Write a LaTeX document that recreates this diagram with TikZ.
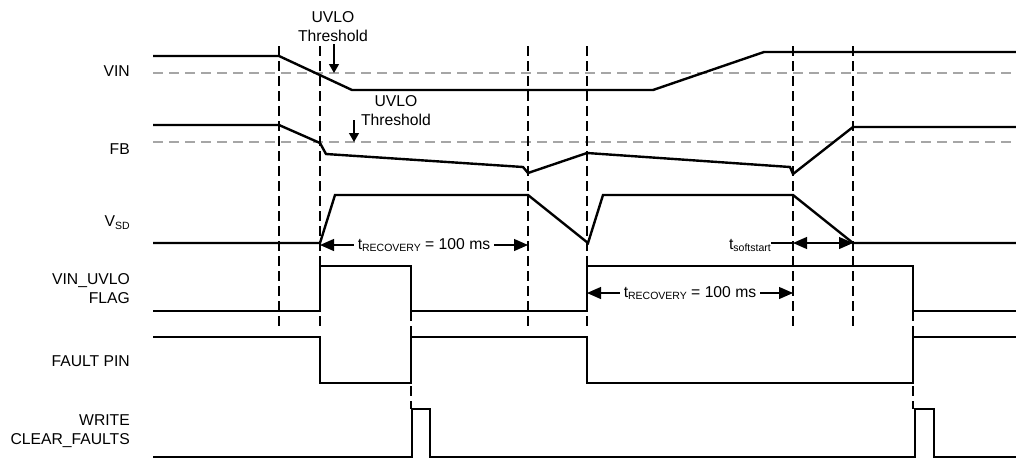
\documentclass[tikz,border=0pt]{standalone}
\usepackage{fontspec}
\setmainfont{Liberation Sans}
\usetikzlibrary{arrows.meta}
\newcommand{\mysub}[2][-2pt]{\raisebox{#1}{\fontsize{10.5}{10.5}\selectfont #2}}
\begin{document}
\begin{tikzpicture}[x=1pt,y=-1pt,
  sig/.style={line width=2.4pt, line join=miter},
  vdash/.style={line width=1.2pt, dash pattern=on 10pt off 5pt},
  thr/.style={line width=1.3pt, black!35, dash pattern=on 10pt off 6pt},
  lbl/.style={font=\fontsize{15.7}{19}\selectfont, align=right, anchor=east, inner sep=0pt},
  ann/.style={font=\fontsize{15.7}{19}\selectfont, align=center, inner sep=0pt},
  tarrow/.style={{Triangle[length=14pt,width=12pt]}-{Triangle[length=14pt,width=12pt]}, line width=1.2pt},
  uarrow/.style={-{Triangle[length=9pt,width=10pt]}, line width=1.2pt},
  tlabel/.style={font=\fontsize{15.7}{19}\selectfont, fill=white, inner xsep=4pt, inner ysep=1pt},
]
\useasboundingbox (0,0) rectangle (1016,461);

% signal labels
\node[lbl] (lvin) at (130,71) {VIN};
\node[lbl] (lfb) at (130,149) {FB};
\node[lbl] (lvsd) at (130,223) {V\mysub[-3pt]{SD}};
\node[lbl] (lflag) at (130,288.5) {VIN\_UVLO\\FLAG};
\node[lbl] (lfault) at (130,361) {FAULT PIN};
\node[lbl] (lwrite) at (130,431.5) {WRITE\\CLEAR\_FAULTS};

% thresholds
\draw[thr] (153,73) -- (1016,73);
\draw[thr] (153,142) -- (1016,142);

% vertical dashed markers
\foreach \xx in {279,320,528,587,793,853}
  \draw[vdash] (\xx,46) -- (\xx,330);
\foreach \xx in {411,913}
  \draw[vdash] (\xx,311) -- (\xx,409);

% waveforms
\draw[sig] (153,56) -- (279,56) -- (352,90) -- (653,90) -- (764,52) -- (1016,52);
\draw[sig] (153,125) -- (279,125) -- (320,143) -- (326,154) -- (523,167) -- (528,173)
  -- (587,153) -- (790,167) -- (793,174) -- (853,127) -- (1016,127);
\draw[sig] (153,243) -- (320,243) -- (335,195) -- (528,195) -- (588,243) -- (603,195)
  -- (793,195) -- (853,243) -- (1016,243);
\draw[sig] (153,311) -- (320,311) -- (320,266) -- (411,266) -- (411,311) -- (587,311)
  -- (587,266) -- (913,266) -- (913,311) -- (1016,311);
\draw[sig] (153,337) -- (320,337) -- (320,383) -- (411,383) -- (411,337) -- (587,337)
  -- (587,383) -- (913,383) -- (913,337) -- (1016,337);
\draw[sig] (153,457) -- (412,457) -- (412,409) -- (430,409) -- (430,457) -- (915,457)
  -- (915,409) -- (934,409) -- (934,457) -- (1016,457);

% UVLO threshold annotations
\node[ann] (u1) at (333,27) {UVLO\\Threshold};
\coordinate (u1t) at (334,73);
\draw[uarrow] (u1.south -| u1t) ++(0,2) -- (u1t);
\node[ann] (u2) at (396,111) {UVLO\\Threshold};
\coordinate (u2s) at (354,120);
\coordinate (u2t) at (354,142);
\draw[uarrow] (u2s) -- (u2t);

% t_RECOVERY arrows
\coordinate (r1a) at (320,245);
\coordinate (r1b) at (528,245);
\draw[tarrow] (r1a) -- node[tlabel] (r1l) {t\mysub{RECOVERY} = 100 ms} (r1b);
\coordinate (r2a) at (587,293);
\coordinate (r2b) at (793,293);
\draw[tarrow] (r2a) -- node[tlabel] (r2l) {t\mysub{RECOVERY} = 100 ms} (r2b);

% t_softstart
\coordinate (s1) at (793,243);
\coordinate (s2) at (853,243);
\draw[tarrow] (s1) -- (s2);
\node[font=\fontsize{15.7}{19}\selectfont, anchor=east, inner sep=0pt] (sl) at (771,245) {t\mysub{softstart}};
\draw[line width=1.2pt] (sl.east |- s1) -- (s1);
\end{tikzpicture}
\end{document}
